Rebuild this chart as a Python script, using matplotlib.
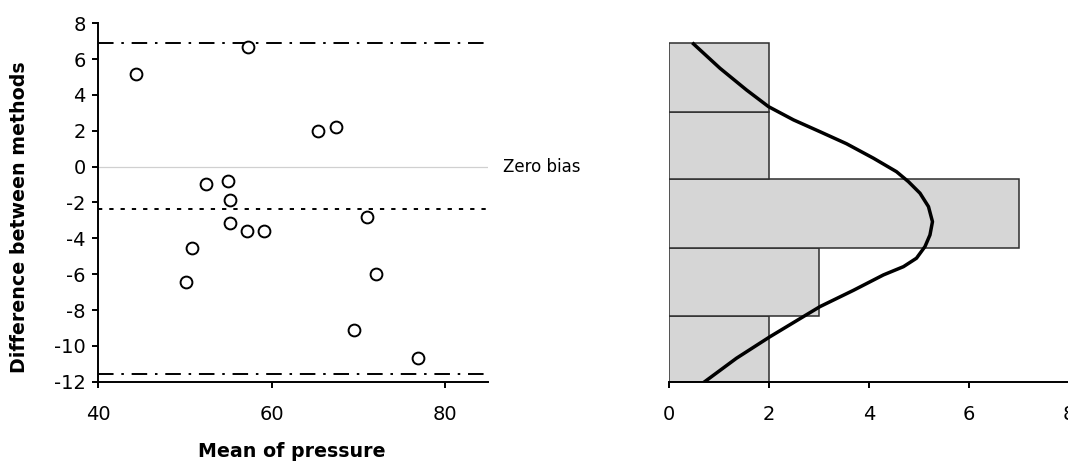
import numpy as np
import matplotlib
matplotlib.use("Agg")
import matplotlib.pyplot as plt

plt.rcParams['font.family'] = ['DejaVu Sans']
plt.rcParams['axes.unicode_minus'] = False

# Bland-Altman data
mean_pressure = [44.35, 57.24, 65.31, 67.39, 52.43, 54.93, 55.20, 55.20,
                 57.12, 59.15, 50.78, 50.12, 71.04, 72.04, 69.50, 76.85]
difference = [5.15, 6.70, 2.01, 2.23, -0.98, -0.78, -1.86, -3.13,
              -3.57, -3.57, -4.55, -6.42, -2.79, -6.00, -9.11, -10.69]
bias = -2.38
upper_loa = 6.89
lower_loa = -11.58

# histogram of the differences
bin_edges = [-12.0, -8.31, -4.52, -0.70, 3.07, 6.89]
bin_counts = [2, 3, 7, 2, 2]

# fitted normal curve
curve_count = [0.49, 1.02, 1.55, 1.99, 2.49, 3.02, 3.55, 4.09, 4.55, 4.79, 5.02,
               5.19, 5.27, 5.22, 5.12, 4.95, 4.69, 4.29, 3.69, 3.02, 2.02, 1.35, 0.69]
curve_diff = [6.85, 5.49, 4.28, 3.35, 2.61, 1.95, 1.28, 0.47, -0.28, -0.84, -1.48,
              -2.23, -3.07, -3.81, -4.46, -5.11, -5.58, -6.04, -6.90, -7.81, -9.49,
              -10.69, -12.05]

fig = plt.figure(figsize=(10.68, 4.63), dpi=100)
ax = fig.add_axes([0.092, 0.1756, 0.3652, 0.7741])
ax2 = fig.add_axes([0.6264, 0.1756, 0.3745, 0.7741])

lw = 1.4

# left panel
ax.axhline(0, color='#d0d0d0', lw=0.9, zorder=1)
ax.axhline(upper_loa, color='black', lw=lw, dashes=(8, 4, 1.3, 4), zorder=2)
ax.axhline(lower_loa, color='black', lw=lw, dashes=(8, 4, 1.3, 4), zorder=2)
ax.axhline(bias, color='black', lw=lw, dashes=(2.2, 3.6), zorder=2)
ax.plot(mean_pressure, difference, 'o', ms=8.5, mfc='white', mec='black', mew=1.4, zorder=3)

ax.set_xlim(40, 85)
ax.set_ylim(-12, 8)
ax.set_xticks([40, 60, 80])
ax.set_yticks(range(-12, 9, 2))
for s in ['top', 'right']:
    ax.spines[s].set_visible(False)
for s in ['left', 'bottom']:
    ax.spines[s].set_linewidth(lw)
ax.tick_params(direction='out', length=4, width=lw, labelsize=14, pad=5)
ax.tick_params(axis='x', pad=13)
ax.set_xlabel('Mean of pressure', fontsize=13.7, fontweight='bold', va='top')
ax.xaxis.set_label_coords(0.495, -0.168)
ax.set_ylabel('Difference between methods', fontsize=13.7, fontweight='bold')
ax.yaxis.set_label_coords(-0.178, 0.458)
ax.text(86.7, 0, 'Zero bias', fontsize=12, va='center', ha='left', clip_on=False)

# right panel
heights = np.diff(bin_edges)
ax2.barh(bin_edges[:-1], bin_counts, height=heights, left=0, align='edge',
         color='#d6d6d6', edgecolor='#2e2e2e', linewidth=1.1, zorder=1)
ax2.plot(curve_count, curve_diff, color='black', lw=2.5, solid_joinstyle='round', zorder=2)
ax2.set_xlim(0, 8)
ax2.set_ylim(-12, 8)
ax2.set_xticks([0, 2, 4, 6, 8])
ax2.set_yticks([])
for s in ['top', 'right', 'left']:
    ax2.spines[s].set_visible(False)
ax2.spines['bottom'].set_linewidth(lw)
ax2.tick_params(direction='out', length=4, width=lw, labelsize=14, pad=13)

fig.savefig('out.png', dpi=100)
